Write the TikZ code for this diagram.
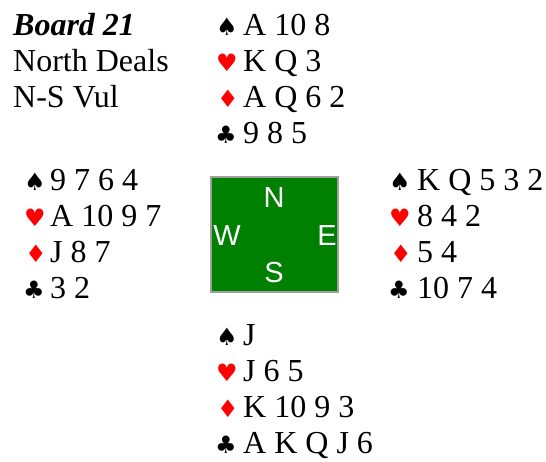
\documentclass[tikz,border=0pt]{standalone}
\usepackage{fontspec}
\setmainfont{Liberation Serif}
\newfontfamily\suitfont{DejaVu Sans}
\newfontfamily\dirfont{Liberation Sans}
\definecolor{boardgreen}{HTML}{008000}
\definecolor{boardgray}{HTML}{A0A0A0}
\definecolor{suitred}{HTML}{FF0000}
\begin{document}
\begin{tikzpicture}[x=1pt,y=-1pt,
  txt/.style={anchor=base west,inner sep=0pt,font=\fontsize{32}{36}\selectfont},
  suit/.style={anchor=base west,inner sep=0pt,font=\suitfont\fontsize{24}{28}\selectfont},
  blk/.style={suit,text=black},
  rd/.style={suit,text=suitred},
  dir/.style={anchor=base,inner sep=0pt,text=white,font=\dirfont\fontsize{29}{32}\selectfont}]
\useasboundingbox (0,0) rectangle (546,461);
% info
\node[txt,font=\fontsize{32}{36}\selectfont\bfseries\itshape] (title) at (13,35) {Board 21};
\node[txt] (deal) at (13,71) {North Deals};
\node[txt] (vul) at (13,107) {N-S Vul};
% North
\node[blk] (ns) at (216,35) {♠};  \node[txt] (nst) at (243,35) {A 10 8};
\node[rd]  (nh) at (216,71) {♥};  \node[txt] (nht) at (243,71) {K Q 3};
\node[rd]  (nd) at (217,107) {♦}; \node[txt] (ndt) at (243,107) {A Q 6 2};
\node[blk] (nc) at (215,143) {♣}; \node[txt] (nct) at (243,143) {9 8 5};
% West
\node[blk] (ws) at (24,190) {♠};  \node[txt] (wst) at (50,190) {9 7 6 4};
\node[rd]  (wh) at (24,226) {♥};  \node[txt] (wht) at (50,226) {A 10 9 7};
\node[rd]  (wd) at (25,262) {♦};  \node[txt] (wdt) at (50,262) {J 8 7};
\node[blk] (wc) at (23,298) {♣};  \node[txt] (wct) at (50,298) {3 2};
% East
\node[blk] (es) at (389,190) {♠}; \node[txt] (est) at (417,190) {K Q 5 3 2};
\node[rd]  (eh) at (389,226) {♥}; \node[txt] (eht) at (417,226) {8 4 2};
\node[rd]  (ed) at (390,262) {♦}; \node[txt] (edt) at (417,262) {5 4};
\node[blk] (ec) at (388,298) {♣}; \node[txt] (ect) at (417,298) {10 7 4};
% South
\node[blk] (ss) at (216,345) {♠}; \node[txt] (sst) at (243,345) {J};
\node[rd]  (sh) at (216,381) {♥}; \node[txt] (sht) at (243,381) {J 6 5};
\node[rd]  (sd) at (217,417) {♦}; \node[txt] (sdt) at (243,417) {K 10 9 3};
\node[blk] (sc) at (215,453) {♣}; \node[txt] (sct) at (243,453) {A K Q J 6};
% compass box
\node[draw=boardgray,line width=2pt,fill=boardgreen,minimum width=127pt,minimum height=115pt,inner sep=0pt] (box) at (274.5,234.5) {};
\node[dir] (dn) at (274,207) {N};
\node[dir] (dw) at (227,245) {W};
\node[dir] (de) at (327,245) {E};
\node[dir] (dsth) at (274,282) {S};
\end{tikzpicture}
\end{document}
